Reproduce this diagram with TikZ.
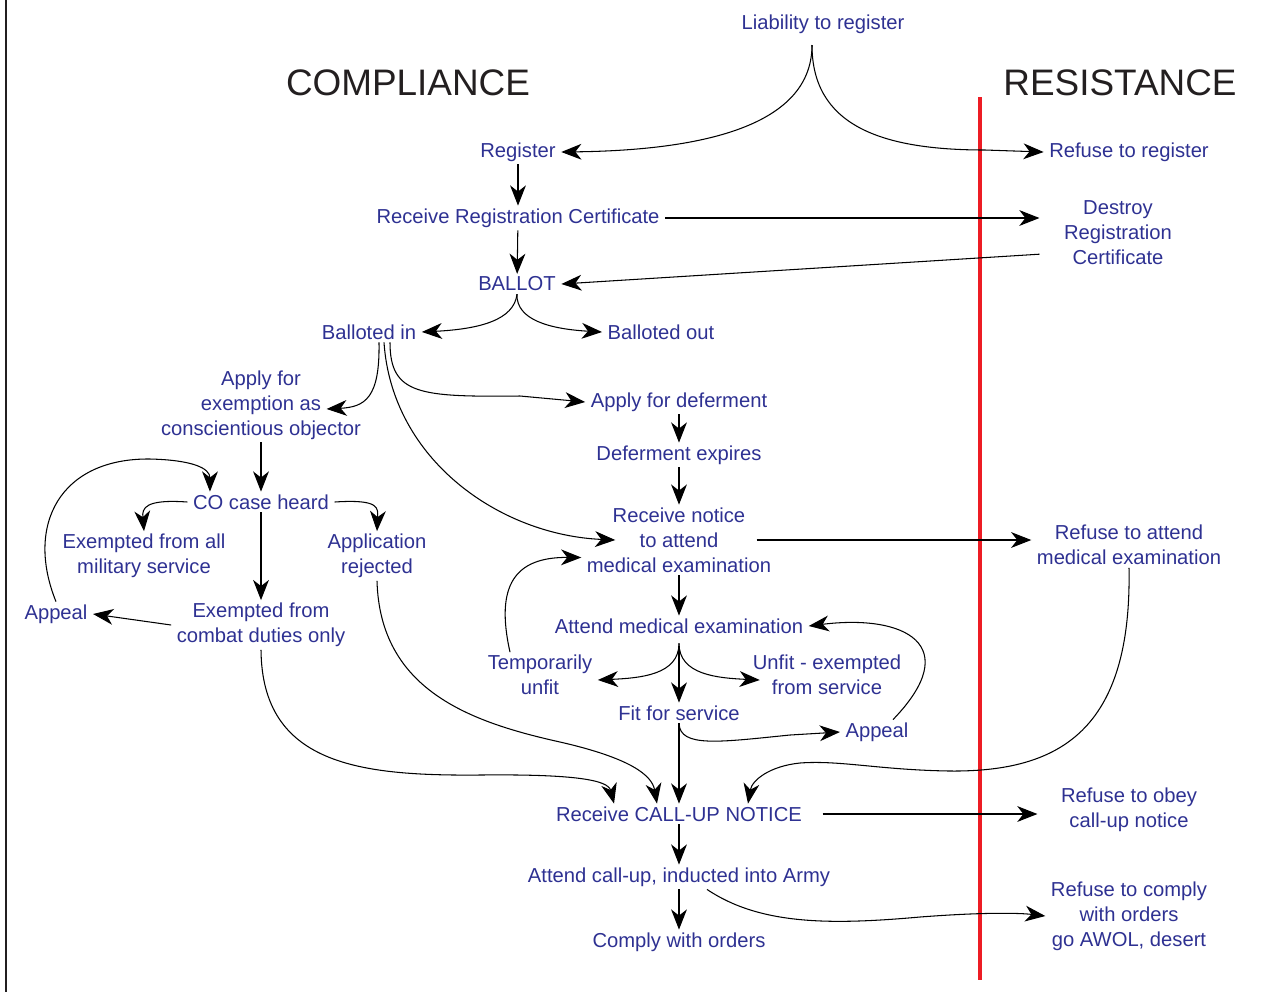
\documentclass[tikz,border=0pt]{standalone}
\usepackage{fontspec}
\setmainfont{Liberation Sans}
\usetikzlibrary{arrows.meta, calc}

\definecolor{stepblue}{RGB}{46,49,146}
\definecolor{titlegray}{RGB}{35,31,32}
\definecolor{divred}{RGB}{237,28,36}

\tikzset{
  lbl/.style={text=stepblue, font=\fontsize{11.5}{14.2}\selectfont, align=center, inner xsep=3pt, inner ysep=1.5pt, yshift=-0.04cm},
  head/.style={text=titlegray, font=\fontsize{21}{25}\selectfont},
  flow/.style={->, line width=0.6pt},
}

\begin{document}
\begin{tikzpicture}[x=0.02cm, y=-0.02cm, >={Stealth[length=11.5pt, width=9pt, inset=3.5pt]}]
    \useasboundingbox (0,0) rectangle (1288,992);
    % page edge and dividing line
    \draw[line width=0.8pt, titlegray] (6,0) -- (6,992);
    \draw[line width=2.8pt, divred] (980,97) -- (980,980);
    % headings
    \node[head] (comp) at (408,83) {COMPLIANCE};
    \node[head] (resist) at (1120,83) {RESISTANCE};
    % registration
    \node[lbl] (liab) at (823,22) {Liability to register};
    \node[lbl] (reg) at (518,150) {Register};
    \node[lbl] (refreg) at (1129,150) {Refuse to register};
    \node[lbl] (rrc) at (518,216) {Receive Registration Certificate};
    \node[lbl] (destroy) at (1118,231) {Destroy\\Registration\\Certificate};
    \node[lbl] (ballot) at (517,282) {BALLOT};
    \node[lbl] (ballin) at (369,330) {Balloted in};
    \node[lbl] (ballout) at (661,330) {Balloted out};
    % exemption and deferment
    \node[lbl] (coapply) at (261,403) {Apply for\\exemption as\\conscientious objector};
    \node[lbl] (defer) at (679,400) {Apply for deferment};
    \node[lbl] (defexp) at (679,453) {Deferment expires};
    \node[lbl] (cocase) at (261,500) {CO case heard};
    \node[lbl] (notice) at (679,538) {Receive notice\\to attend\\medical examination};
    \node[lbl] (refmed) at (1129,543) {Refuse to attend\\medical examination};
    \node[lbl] (exall) at (144,554) {Exempted from all\\military service};
    \node[lbl] (rejected) at (377,554) {Application\\rejected};
    \node[lbl] (appeal1) at (56,612) {Appeal};
    \node[lbl] (excomb) at (261,623) {Exempted from\\combat duties only};
    % medical
    \node[lbl] (attmed) at (679,624) {Attend medical examination};
    \node[lbl] (tempunfit) at (540,673) {Temporarily\\unfit};
    \node[lbl] (unfit) at (827,673) {Unfit - exempted\\from service};
    \node[lbl] (fit) at (679,711) {Fit for service};
    \node[lbl] (appeal2) at (877,730) {Appeal};
    % call-up
    \node[lbl] (callup) at (679,812) {Receive CALL-UP NOTICE};
    \node[lbl] (refobey) at (1129,808) {Refuse to obey\\call-up notice};
    \node[lbl] (attend) at (679,875) {Attend call-up, inducted into Army};
    \node[lbl] (comply) at (679,940) {Comply with orders};
    \node[lbl] (refcomply) at (1129,914) {Refuse to comply\\with orders\\go AWOL, desert};

    % register or refuse
    \coordinate (liabfork) at (812,45);
    \draw[flow] (liabfork) .. controls (812,115) and (730,150) .. (reg.east);
    \draw[flow] (liabfork) .. controls (812,125) and (880,150) .. (985,150) -- (refreg.west);
    \draw[flow] (reg) -- (rrc);
    \draw[flow, shorten >=0.38cm] (rrc.east) -- (rrc.east -| destroy.west);
    \draw[flow, shorten <=0.38cm] ([yshift=-0.4cm]destroy.west) -- (ballot.east);
    \draw[flow] (rrc) -- (ballot);
    % ballot
    \draw[flow] (ballot.south) .. controls (514,320) and (480,329) .. (ballin.east);
    \draw[flow] (ballot.south) .. controls (516,320) and (550,329) .. (ballout.west);
    \draw[flow] ([xshift=0.2cm]ballin.south) .. controls (380,398) and (365,407) .. ([xshift=-0.8cm,yshift=-0.08cm]coapply.east);
    \draw[flow] ([xshift=0.3cm]ballin.south) .. controls (392,460) and (500,535) .. ([xshift=0.68cm]notice.west);
    \draw[flow] ([xshift=0.42cm]ballin.south) .. controls (390,395) and (420,397) .. (520,396) -- (defer.west);
    % deferment
    \draw[flow] (defer) -- (defexp);
    \draw[flow] (defexp) -- (notice);
    \draw[flow] ([xshift=-0.4cm]notice.east) -- (notice.east -| refmed.west);
    \draw[flow] (notice) -- (attmed);
    % conscientious objector
    \draw[flow] (coapply) -- (cocase);
    \draw[flow] (cocase.west) .. controls (145,499) and (142,508) .. (exall.north);
    \draw[flow] (cocase.east) .. controls (380,499) and (378,508) .. (rejected.north);
    \draw[flow] (cocase) -- (excomb);
    \draw[flow] (excomb.west) -- (appeal1.east);
    \draw[flow] (appeal1.north) .. controls (25,525) and (60,458) .. (150,459) .. controls (192,460) and (210,468) .. ([xshift=0.45cm]cocase.north west);
    \draw[flow] (excomb.south) .. controls (262,765) and (360,776) .. (480,775) .. controls (575,774) and (608,780) .. ([xshift=-1.3cm]callup.north);
    \draw[flow] (rejected.south) .. controls (380,690) and (470,722) .. (560,742) .. controls (630,758) and (652,775) .. ([xshift=-0.44cm]callup.north);
    % medical examination
    \coordinate (medfork) at ([yshift=-0.14cm]attmed.south);
    \draw[flow] (medfork) .. controls (679,675) and (640,678) .. ([yshift=-0.1cm]tempunfit.east);
    \draw[flow] (medfork) .. controls (679,675) and (718,678) .. ([xshift=0.25cm,yshift=-0.1cm]unfit.west);
    \draw[flow] ([yshift=-0.2cm]attmed.south) -- (fit);
    \draw[flow] ([xshift=-0.6cm]tempunfit.north) .. controls (495,585) and (515,557) .. ([yshift=-0.35cm]notice.west);
    \draw[flow] (fit.south) .. controls (680,748) and (720,742) .. (790,735) -- (appeal2.west);
    \draw[flow] ([xshift=0.32cm]appeal2.north) .. controls (965,645) and (905,614) .. (attmed.east);
    \draw[flow] (fit) -- (callup);
    \draw[flow] (refmed.south) .. controls (1132,730) and (1060,772) .. (950,771) .. controls (880,770) and (840,760) .. (800,763) .. controls (770,766) and (752,780) .. ([xshift=1.38cm]callup.north);
    % call-up
    \draw[flow, shorten <=0.3cm, shorten >=0.36cm] (callup.east) -- (callup.east -| refobey.west);
    \draw[flow] (callup) -- (attend);
    \draw[flow] (attend) -- (comply);
    \draw[flow] ([xshift=0.56cm]attend.south) .. controls (760,925) and (830,925) .. (920,917) .. controls (985,912) and (1020,913) .. (refcomply.west);
\end{tikzpicture}
\end{document}
